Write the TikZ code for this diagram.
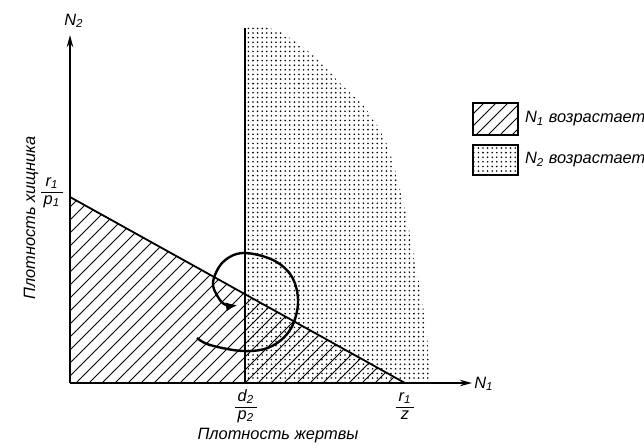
\documentclass[tikz,border=0pt]{standalone}
\usepackage{fontspec}
\setmainfont{Liberation Sans}
\usetikzlibrary{arrows.meta,patterns.meta}

\newcommand{\frc}[2]{\renewcommand{\arraystretch}{0.9}\begin{tabular}{@{\,}c@{\,}}#1\\\hline #2\end{tabular}}

\begin{document}
\begin{tikzpicture}[x=0.5pt, y=-0.5pt, every node/.style={font=\fontsize{8.2}{9.5}\selectfont\itshape}, >={Stealth[length=6pt,width=3.2pt]},
	axis/.style={line width=1pt},
	isoline/.style={line width=0.9pt},
	hatch/.style={line width=0.45pt},
	stipple/.style={pattern={Dots[distance=2.3pt,radius=0.45pt]}}]
	\useasboundingbox (0,0) rectangle (644,447);
	\coordinate (O) at (70,383);
	\coordinate (A) at (70,197);
	\coordinate (B) at (405,383);
	\coordinate (C) at (245,383);
	\coordinate (Ctop) at (245,28);
	\coordinate (Xend) at (472,383);
	\coordinate (Yend) at (70,35);
	% N2 grows
	\fill[stipple] (C) -- (Ctop) -- plot[smooth] coordinates {(262,26) (280,32) (300,45) (318,60) (340,83) (367,110) (385,140) (395,170) (405,210) (413,250) (422,300) (428,345) (430,383)} -- cycle;
	% N1 grows
	\begin{scope}
		\clip (O) -- (A) -- (B) -- cycle;
		\foreach \x in {-340,-327,...,420}
			\draw[hatch] (\x,383) -- ++(340,-340);
	\end{scope}
	\draw[isoline] (A) -- (B);
	\draw[isoline] (C) -- (Ctop);
	\draw[axis,->] (O) -- (Xend);
	\draw[axis,->] (O) -- (Yend);
	% trajectory
	\draw[line width=1.2pt, -{Latex[length=6pt,width=4.5pt]}] plot[smooth, tension=0.6] coordinates {(197,338) (210,345) (243,351) (270,347) (290,330) (298,303) (292,277) (273,260) (243,253) (223,262) (213,282) (218,297) (226,305) (238,305)};
	% legend
	\begin{scope}
		\clip (473,103) rectangle (518,135);
		\foreach \x in {440,452,...,520}
			\draw[hatch] (\x,135) -- ++(40,-40);
	\end{scope}
	\draw[line width=0.6pt] (473,103) rectangle (518,135);
	\fill[stipple] (473,145) rectangle (518,175);
	\draw[line width=0.6pt] (473,145) rectangle (518,175);
	\node[anchor=west] (legone) at (518,119) {N\textsubscript{1} возрастает};
	\node[anchor=west] (legtwo) at (518,160) {N\textsubscript{2} возрастает};
	% labels
	\node (ntwo) at (74,21) {N\textsubscript{2}};
	\node (none) at (484,384) {N\textsubscript{1}};
	\node (rp) at (52,192) {\frc{r\textsubscript{1}}{p\textsubscript{1}}};
	\node (dp) at (246,407) {\frc{d\textsubscript{2}}{p\textsubscript{2}}};
	\node (rz) at (405,407) {\frc{r\textsubscript{1}}{z}};
	\node (prey) at (278,436) {Плотность жертвы};
	\node[rotate=90] (pred) at (31,218) {Плотность хищника};
\end{tikzpicture}
\end{document}
